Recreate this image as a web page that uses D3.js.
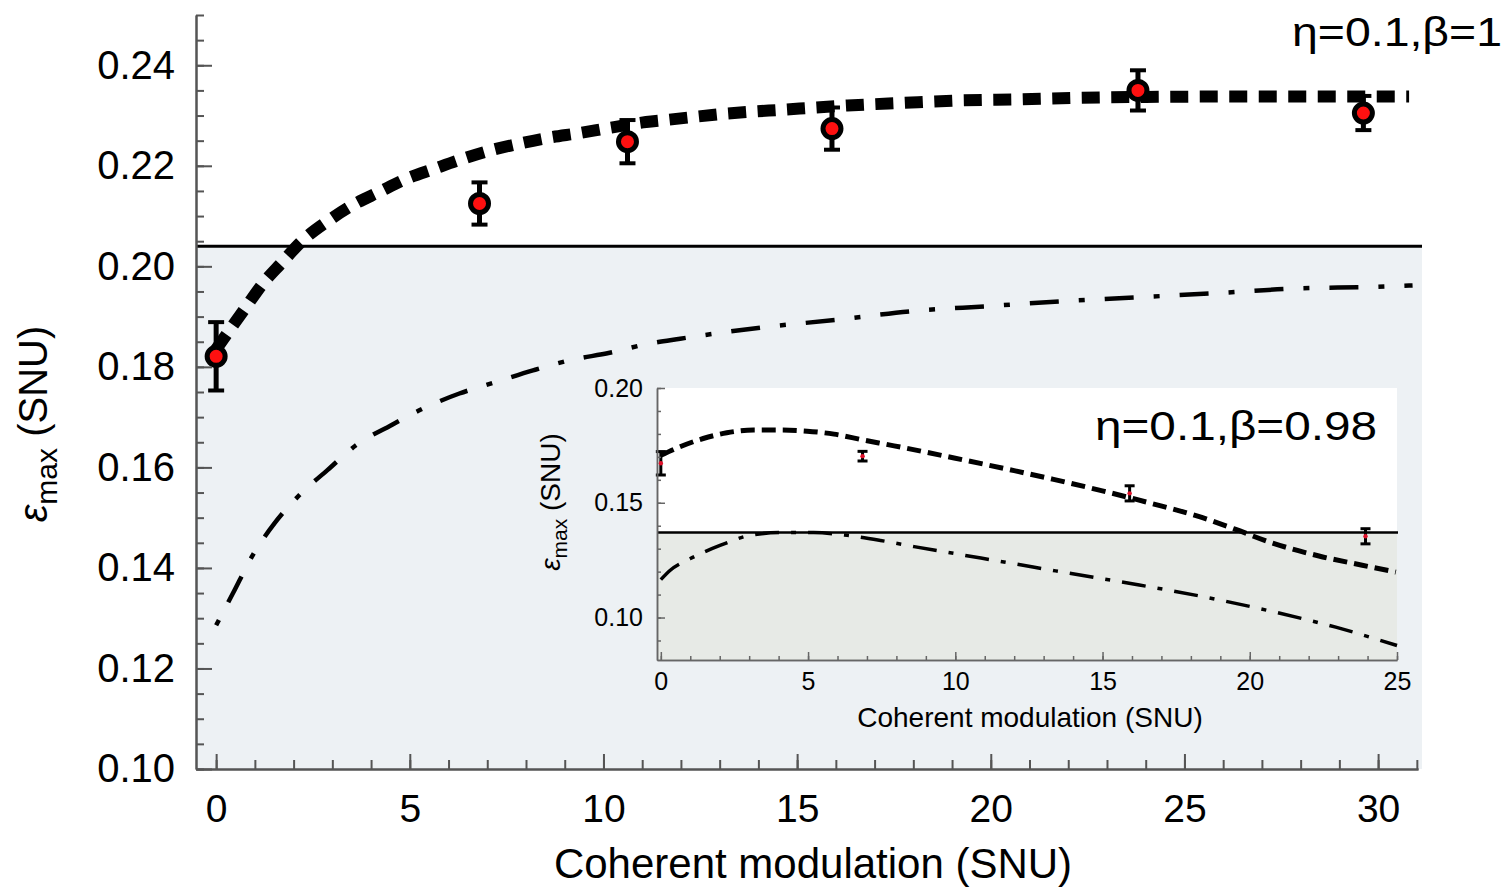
<!DOCTYPE html>
<html><head><meta charset="utf-8">
<script src="https://cdn.jsdelivr.net/npm/d3@7"></script>
<style>
html,body{margin:0;padding:0;background:#fff;}
svg{display:block;font-family:"Liberation Sans",Arial,Helvetica,sans-serif;}
</style></head><body>
<svg id="chart" width="1509" height="889"></svg>
<script>
// ---------- data: main panel (eta=0.1, beta=1) ----------
const mainTheoryX = [0, 0.77, 1.21, 1.68, 2.24, 2.92, 3.53, 4.21, 4.91, 5.63, 6.37, 7.05, 7.82, 8.6, 9.37, 10.2, 11.1, 11.6, 13.2, 14.7, 16.3, 17.7, 19.2, 20.7, 22.2, 24, 27, 30.8];
const mainTheoryY = [0.1835, 0.1919, 0.1966, 0.2006, 0.2052, 0.2092, 0.2122, 0.2148, 0.2174, 0.2194, 0.2214, 0.2230, 0.2244, 0.2256, 0.2265, 0.2276, 0.2287, 0.2291, 0.2304, 0.2312, 0.2320, 0.2325, 0.2330, 0.2332, 0.2335, 0.2337, 0.2338, 0.2338];
const mainClassicalX = [0, 0.43, 0.95, 1.51, 2.15, 2.88, 3.61, 4.52, 5.34, 6.28, 7.23, 8.18, 9.12, 10.16, 11.1, 11.98, 14.05, 16.05, 17.98, 19.98, 21.92, 23.92, 25.92, 27.86, 29.86, 30.89];
const mainClassicalY = [0.1286, 0.1349, 0.1426, 0.1489, 0.1545, 0.1595, 0.1644, 0.1684, 0.1717, 0.1747, 0.1770, 0.1793, 0.1813, 0.1828, 0.1845, 0.1856, 0.1878, 0.1894, 0.1911, 0.1921, 0.1931, 0.1939, 0.1947, 0.1956, 0.1959, 0.1962];
const mainDataX = [0, 6.8, 10.62, 15.9, 23.8, 29.62];
const mainDataY = [0.1821, 0.2125, 0.2248, 0.2274, 0.2350, 0.2305];
const mainDataErr = [0.0068, 0.0042, 0.0043, 0.0042, 0.0040, 0.0034];
const mainThreshold = 0.204;
const mainXTicks = [0, 5, 10, 15, 20, 25, 30];
const mainXTickLabels = ["0", "5", "10", "15", "20", "25", "30"];
const mainYTicks = [0.10, 0.12, 0.14, 0.16, 0.18, 0.20, 0.22, 0.24];
const mainYTickLabels = ["0.10", "0.12", "0.14", "0.16", "0.18", "0.20", "0.22", "0.24"];
const mainLabel = "η=0.1,β=1";

// ---------- data: inset (eta=0.1, beta=0.98) ----------
const insetTheoryX = [0, 0.65, 1.44, 2.24, 3.15, 4.06, 4.97, 5.88, 6.9, 7.92, 8.94, 9.96, 10.98, 12.0, 13.3, 14.96, 16.67, 18.37, 19.5, 20.64, 22.35, 23.82, 24.96];
const insetTheoryY = [0.1707, 0.1744, 0.1780, 0.1805, 0.1817, 0.1817, 0.1812, 0.1799, 0.1773, 0.1748, 0.1722, 0.1695, 0.1668, 0.1640, 0.1603, 0.1553, 0.1497, 0.1436, 0.1385, 0.1330, 0.1268, 0.1228, 0.1198];
const insetClassicalX = [0, 0.31, 0.99, 2.01, 3.03, 4.06, 5.19, 6.33, 7.46, 8.6, 9.74, 10.87, 12.01, 13.83, 16.1, 18.37, 20.64, 22.92, 25];
const insetClassicalY = [0.1165, 0.1205, 0.1256, 0.1314, 0.1358, 0.1370, 0.1370, 0.1358, 0.1336, 0.1309, 0.1284, 0.1259, 0.1234, 0.1194, 0.1145, 0.1092, 0.1030, 0.0958, 0.0878];
const insetDataX = [0, 6.85, 15.92, 23.93];
const insetDataY = [0.1672, 0.1703, 0.1541, 0.1354];
const insetDataErr = [0.0051, 0.0021, 0.0033, 0.0033];
const insetThreshold = 0.137;
const insetXTicks = [0, 5, 10, 15, 20, 25];
const insetXTickLabels = ["0", "5", "10", "15", "20", "25"];
const insetYTicks = [0.10, 0.15, 0.20];
const insetYTickLabels = ["0.10", "0.15", "0.20"];
const insetLabel = "η=0.1,β=0.98";

const xAxisTitle = "Coherent modulation (SNU)";

// ---------- drawing ----------
const svg = d3.select("#chart");
svg.append("rect").attr("width", 1509).attr("height", 889).attr("fill", "#ffffff");

const x = d3.scaleLinear().domain([-0.52, 31.03]).range([196, 1418]);
const y = d3.scaleLinear().domain([0.10, 0.25]).range([769, 15]);

const defs = svg.append("defs");
defs.append("clipPath").attr("id", "mainClip").append("rect")
  .attr("x", 196).attr("y", 15).attr("width", 1418 - 196).attr("height", 769 - 15);

// shaded classical region
svg.append("rect")
  .attr("x", x.range()[0]).attr("y", y(mainThreshold))
  .attr("width", 1422 - x.range()[0]).attr("height", y(0.10) - y(mainThreshold))
  .attr("fill", "#edf1f4");

svg.append("line")
  .attr("x1", x.range()[0]).attr("x2", 1422)
  .attr("y1", y(mainThreshold)).attr("y2", y(mainThreshold))
  .attr("stroke", "#000").attr("stroke-width", 3);

const mainG = svg.append("g").attr("clip-path", "url(#mainClip)");
const lineMain = d3.line().x(d => x(d[0])).y(d => y(d[1])).curve(d3.curveMonotoneX);

mainG.append("path")
  .attr("d", lineMain(d3.zip(mainClassicalX, mainClassicalY)))
  .attr("fill", "none").attr("stroke", "#000").attr("stroke-width", 4.5)
  .attr("stroke-dasharray", "6,20,29,20");

mainG.append("path")
  .attr("d", lineMain(d3.zip(mainTheoryX, mainTheoryY)))
  .attr("fill", "none").attr("stroke", "#000").attr("stroke-width", 12)
  .attr("stroke-dasharray", "18,11.5");

// data points with error bars
const mainPts = svg.append("g").selectAll("g").data(d3.zip(mainDataX, mainDataY, mainDataErr)).join("g");
mainPts.append("line")
  .attr("x1", d => x(d[0])).attr("x2", d => x(d[0]))
  .attr("y1", d => y(d[1] - d[2])).attr("y2", d => y(d[1] + d[2]))
  .attr("stroke", "#000").attr("stroke-width", 5);
mainPts.append("line")
  .attr("x1", d => x(d[0]) - 8).attr("x2", d => x(d[0]) + 8)
  .attr("y1", d => y(d[1] - d[2])).attr("y2", d => y(d[1] - d[2]))
  .attr("stroke", "#000").attr("stroke-width", 4);
mainPts.append("line")
  .attr("x1", d => x(d[0]) - 8).attr("x2", d => x(d[0]) + 8)
  .attr("y1", d => y(d[1] + d[2])).attr("y2", d => y(d[1] + d[2]))
  .attr("stroke", "#000").attr("stroke-width", 4);
mainPts.append("circle")
  .attr("cx", d => x(d[0])).attr("cy", d => y(d[1])).attr("r", 9)
  .attr("fill", "#ff1010").attr("stroke", "#000").attr("stroke-width", 5);

// ---------- inset ----------
const xi = d3.scaleLinear().domain([-0.13, 25]).range([657, 1397]);
const yi = d3.scaleLinear().domain([0.0815, 0.20]).range([660, 388]);

svg.append("rect")
  .attr("x", xi.range()[0]).attr("y", yi.range()[1])
  .attr("width", xi.range()[1] - xi.range()[0]).attr("height", yi(insetThreshold) - yi.range()[1])
  .attr("fill", "#ffffff");
svg.append("rect")
  .attr("x", xi.range()[0]).attr("y", yi(insetThreshold))
  .attr("width", xi.range()[1] - xi.range()[0]).attr("height", yi.range()[0] - yi(insetThreshold))
  .attr("fill", "#e7eae6");

defs.append("clipPath").attr("id", "insetClip").append("rect")
  .attr("x", 657).attr("y", 388).attr("width", 1397 - 657 + 2).attr("height", 660 - 388);

svg.append("line")
  .attr("x1", xi.range()[0]).attr("x2", xi.range()[1] + 1)
  .attr("y1", yi(insetThreshold)).attr("y2", yi(insetThreshold))
  .attr("stroke", "#000").attr("stroke-width", 2.5);

const insetG = svg.append("g").attr("clip-path", "url(#insetClip)");
const lineInset = d3.line().x(d => xi(d[0])).y(d => yi(d[1])).curve(d3.curveMonotoneX);
insetG.append("path")
  .attr("d", lineInset(d3.zip(insetClassicalX, insetClassicalY)))
  .attr("fill", "none").attr("stroke", "#000").attr("stroke-width", 3.5)
  .attr("stroke-dasharray", "24,12,5,12");
insetG.append("path")
  .attr("d", lineInset(d3.zip(insetTheoryX, insetTheoryY)))
  .attr("fill", "none").attr("stroke", "#000").attr("stroke-width", 5)
  .attr("stroke-dasharray", "14,7");

const inPts = svg.append("g").selectAll("g").data(d3.zip(insetDataX, insetDataY, insetDataErr)).join("g");
inPts.append("line")
  .attr("x1", d => xi(d[0])).attr("x2", d => xi(d[0]))
  .attr("y1", d => yi(d[1] - d[2])).attr("y2", d => yi(d[1] + d[2]))
  .attr("stroke", "#000").attr("stroke-width", 3);
inPts.append("line")
  .attr("x1", d => xi(d[0]) - 5).attr("x2", d => xi(d[0]) + 5)
  .attr("y1", d => yi(d[1] - d[2])).attr("y2", d => yi(d[1] - d[2]))
  .attr("stroke", "#000").attr("stroke-width", 3);
inPts.append("line")
  .attr("x1", d => xi(d[0]) - 5).attr("x2", d => xi(d[0]) + 5)
  .attr("y1", d => yi(d[1] + d[2])).attr("y2", d => yi(d[1] + d[2]))
  .attr("stroke", "#000").attr("stroke-width", 3);
inPts.append("circle")
  .attr("cx", d => xi(d[0])).attr("cy", d => yi(d[1])).attr("r", 2.2)
  .attr("fill", "#e0102a");

// axes helper
function styleAxis(g, color, width, fontSize) {
  g.select(".domain").attr("stroke", color).attr("stroke-width", width);
  g.selectAll(".tick line").attr("stroke", color).attr("stroke-width", width);
  g.selectAll(".tick text").attr("fill", "#000").attr("font-size", fontSize)
    .attr("font-family", "'Liberation Sans', Arial, Helvetica, sans-serif");
}
const inXMinor = svg.append("g").attr("transform", `translate(0,${yi.range()[0]})`)
  .call(d3.axisBottom(xi).tickValues(xi.ticks(25)).tickSize(-4).tickSizeOuter(0).tickFormat(""));
styleAxis(inXMinor, "#666", 1.5, 25);
const inX = svg.append("g").attr("transform", `translate(0,${yi.range()[0]})`)
  .call(d3.axisBottom(xi).tickValues(insetXTicks).tickSize(-8).tickSizeOuter(0).tickPadding(12)
    .tickFormat((d, i) => insetXTickLabels[i]));
styleAxis(inX, "#666", 1.5, 25);
const inYMinor = svg.append("g").attr("transform", `translate(${xi.range()[0]},0)`)
  .call(d3.axisLeft(yi).tickValues(yi.ticks(12)).tickSize(-4).tickSizeOuter(0).tickFormat(""));
styleAxis(inYMinor, "#666", 1.5, 25);
const inY = svg.append("g").attr("transform", `translate(${xi.range()[0]},0)`)
  .call(d3.axisLeft(yi).tickValues(insetYTicks).tickSize(-8).tickSizeOuter(0).tickPadding(14)
    .tickFormat((d, i) => insetYTickLabels[i]));
styleAxis(inY, "#666", 1.5, 25);

// inset titles
svg.append("text").attr("x", (xi.range()[0] + xi.range()[1]) / 2 + 3).attr("y", 727)
  .attr("text-anchor", "middle").attr("font-size", 28).attr("fill", "#000").text(xAxisTitle);
const inYT = svg.append("text").attr("transform", "translate(560,502) rotate(-90)")
  .attr("text-anchor", "middle").attr("font-size", 28).attr("fill", "#000");
inYT.append("tspan").attr("font-style", "italic").text("ε");
inYT.append("tspan").attr("font-size", 21).attr("dy", 7).text("max");
inYT.append("tspan").attr("dy", -7).text(" (SNU)");
svg.append("text").attr("x", 1095).attr("y", 440).attr("font-size", 40).attr("fill", "#000")
  .attr("textLength", 282).attr("lengthAdjust", "spacingAndGlyphs").text(insetLabel);

// ---------- main axes ----------
const xMinor = svg.append("g").attr("transform", `translate(0,${y.range()[0]})`)
  .call(d3.axisBottom(x).tickValues(x.ticks(31)).tickSize(-9).tickSizeOuter(0).tickFormat(""));
styleAxis(xMinor, "#555", 2, 39);
const xMajor = svg.append("g").attr("transform", `translate(0,${y.range()[0]})`)
  .call(d3.axisBottom(x).tickValues(mainXTicks).tickSize(-15).tickSizeOuter(0).tickPadding(25)
    .tickFormat((d, i) => mainXTickLabels[i]));
styleAxis(xMajor, "#555", 2, 39);
const yMinor = svg.append("g").attr("transform", `translate(${x.range()[0]},0)`)
  .call(d3.axisLeft(y).tickValues(y.ticks(30)).tickSize(-8).tickSizeOuter(0).tickFormat(""));
styleAxis(yMinor, "#555", 2, 39);
const yMajor = svg.append("g").attr("transform", `translate(${x.range()[0]},0)`)
  .call(d3.axisLeft(y).tickValues(mainYTicks).tickSize(-16).tickSizeOuter(0).tickPadding(21)
    .tickFormat((d, i) => mainYTickLabels[i]));
styleAxis(yMajor, "#555", 2, 40);

// main titles
svg.append("text").attr("x", 813).attr("y", 878)
  .attr("text-anchor", "middle").attr("font-size", 42).attr("fill", "#000").text(xAxisTitle);
const yT = svg.append("text").attr("transform", "translate(47,424) rotate(-90)")
  .attr("text-anchor", "middle").attr("font-size", 40).attr("fill", "#000");
yT.append("tspan").attr("font-style", "italic").text("ε");
yT.append("tspan").attr("font-size", 30).attr("dy", 10).text("max");
yT.append("tspan").attr("dy", -10).text(" (SNU)");
svg.append("text").attr("x", 1292).attr("y", 46).attr("font-size", 40).attr("fill", "#000")
  .attr("textLength", 210).attr("lengthAdjust", "spacingAndGlyphs").text(mainLabel);
</script>
</body></html>
